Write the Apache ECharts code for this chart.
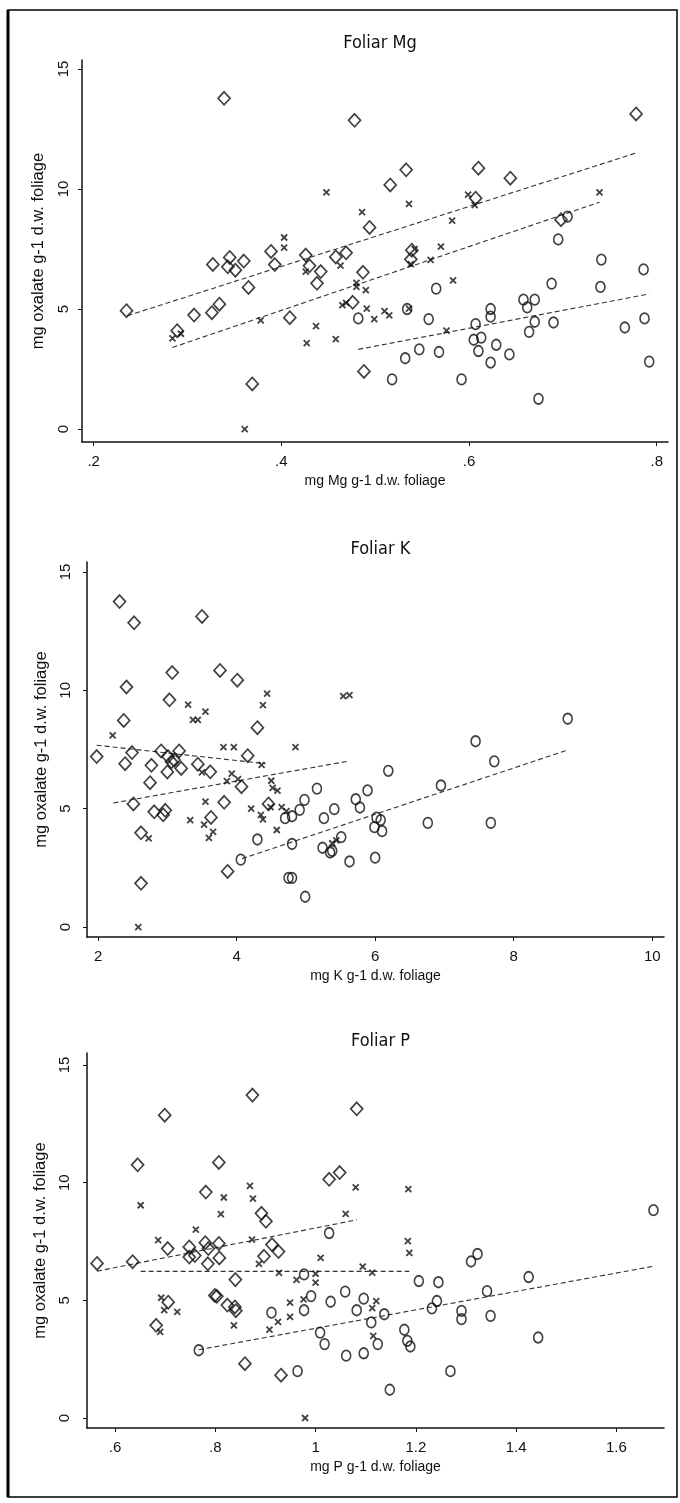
<!DOCTYPE html>
<html>
<head>
<meta charset="utf-8">
<script src="https://cdn.jsdelivr.net/npm/echarts@6/dist/echarts.min.js"></script>
<style>
  html, body { margin: 0; padding: 0; background: #fff; }
  #chart { width: 680px; height: 1503px; }
</style>
</head>
<body>
<div id="chart"></div>
<script>
// ---- Foliar Mg: [mg Mg g-1, mg oxalate g-1] ----
const mgDiamonds = [
  [0.235,4.93],[0.289,4.10],[0.307,4.75],[0.326,4.85],[0.334,5.20],[0.327,6.86],
  [0.345,7.15],[0.343,6.76],[0.351,6.62],[0.360,7.00],[0.365,5.90],[0.369,1.88],
  [0.339,13.78],[0.389,7.40],[0.393,6.85],[0.409,4.64],[0.426,7.25],[0.430,6.80],
  [0.442,6.56],[0.438,6.07],[0.458,7.17],[0.469,7.34],[0.487,6.53],[0.476,5.28],
  [0.488,2.40],[0.478,12.86],[0.494,8.40],[0.516,10.17],[0.533,10.80],[0.539,7.45],
  [0.538,7.07],[0.607,9.62],[0.610,10.87],[0.644,10.45],[0.698,8.72],[0.778,13.13]
];
const mgCrosses = [
  [0.284,3.78],[0.293,3.97],[0.361,0.00],[0.378,4.53],[0.403,7.98],[0.403,7.56],
  [0.426,6.56],[0.427,3.58],[0.437,4.29],[0.448,9.86],[0.458,3.75],[0.463,6.81],
  [0.465,5.16],[0.469,5.26],[0.480,6.09],[0.480,5.92],[0.486,9.04],[0.490,5.79],
  [0.491,5.02],[0.499,4.58],[0.510,4.91],[0.515,4.74],[0.536,9.38],[0.536,5.02],
  [0.542,7.50],[0.538,6.87],[0.559,7.05],[0.570,7.60],[0.576,4.10],[0.583,6.19],
  [0.582,8.68],[0.599,9.77],[0.606,9.33],[0.739,9.86]
];
const mgCircles = [
  [0.482,4.61],[0.518,2.07],[0.532,2.95],[0.534,5.00],[0.547,3.32],[0.557,4.58],
  [0.565,5.85],[0.568,3.21],[0.592,2.07],[0.605,3.72],[0.607,4.37],[0.610,3.25],
  [0.613,3.81],[0.623,2.77],[0.623,5.00],[0.623,4.68],[0.629,3.51],[0.643,3.11],
  [0.658,5.39],[0.662,5.07],[0.664,4.05],[0.670,5.39],[0.670,4.47],[0.674,1.26],
  [0.688,6.06],[0.690,4.44],[0.695,7.90],[0.705,8.85],[0.740,5.92],[0.741,7.06],
  [0.766,4.23],[0.786,6.65],[0.787,4.61],[0.792,2.81]
];
const mgFitDiamonds = [[0.236,4.72],[0.778,11.50]];
const mgFitCrosses  = [[0.284,3.40],[0.739,9.45]];
const mgFitCircles  = [[0.482,3.32],[0.792,5.63]];

// ---- Foliar K ----
const kDiamonds = [
  [1.98,7.20],[2.31,13.75],[2.52,12.85],[3.50,13.12],[2.41,10.14],[3.07,10.75],
  [3.76,10.84],[4.01,10.43],[3.03,9.60],[2.37,8.73],[4.30,8.42],[2.49,7.37],
  [2.39,6.90],[2.51,5.20],[2.75,6.10],[2.77,6.83],[2.81,4.87],[2.91,7.44],
  [2.94,4.74],[2.97,4.93],[3.01,7.20],[3.00,6.55],[3.06,6.98],[3.10,7.05],
  [3.17,7.44],[3.20,6.70],[3.44,6.88],[3.62,6.56],[3.63,4.63],[3.82,5.27],
  [3.87,2.35],[4.07,5.93],[4.16,7.24],[4.46,5.20],[2.62,3.98],[2.62,1.85]
];
const kCrosses = [
  [2.21,8.10],[3.30,9.40],[3.37,8.75],[3.44,8.75],[3.55,9.10],[4.44,9.86],
  [4.38,9.37],[5.54,9.75],[5.63,9.80],[3.81,7.60],[3.96,7.60],[4.85,7.60],
  [4.36,6.85],[3.50,6.53],[3.93,6.48],[3.86,6.16],[4.02,6.25],[4.50,6.18],
  [4.52,5.88],[4.59,5.76],[3.55,5.30],[4.21,5.00],[4.35,4.74],[4.38,4.55],
  [4.49,5.07],[4.65,5.07],[4.72,4.90],[3.33,4.52],[3.53,4.33],[3.60,3.77],
  [3.66,4.02],[4.58,4.10],[2.73,3.75],[2.58,0.00],[5.38,3.54],[5.44,3.66]
];
const kCircles = [
  [4.06,2.85],[4.30,3.70],[4.80,3.51],[4.70,4.60],[4.80,4.68],[4.91,4.95],
  [4.98,5.37],[4.75,2.08],[4.80,2.08],[4.99,1.28],[5.16,5.85],[5.24,3.35],
  [5.26,4.60],[5.35,3.15],[5.38,3.22],[5.41,4.98],[5.51,3.80],[5.63,2.77],
  [5.72,5.40],[5.78,5.05],[5.89,5.77],[5.99,4.22],[6.00,2.93],[6.02,4.62],
  [6.08,4.52],[6.10,4.05],[6.19,6.60],[6.76,4.40],[6.95,5.98],[7.45,7.85],
  [7.67,4.40],[7.72,7.00],[8.78,8.80]
];
const kFitDiamonds = [[1.98,7.68],[4.42,6.90]];
const kFitCrosses  = [[2.22,5.24],[5.60,7.00]];
const kFitCircles  = [[4.08,2.89],[8.75,7.45]];

// ---- Foliar P ----
const pDiamonds = [
  [0.564,6.57],[0.635,6.64],[0.645,10.76],[0.699,12.87],[0.705,7.20],[0.748,7.27],
  [0.748,6.84],[0.759,6.90],[0.780,7.45],[0.786,7.20],[0.785,6.55],[0.807,7.42],
  [0.808,6.80],[0.781,9.60],[0.807,10.86],[0.874,13.72],[0.892,8.70],[0.901,8.36],
  [0.897,6.87],[0.913,7.37],[0.926,7.07],[0.840,5.88],[0.799,5.21],[0.803,5.17],
  [0.824,4.80],[0.839,4.72],[0.841,4.56],[0.706,4.92],[0.682,3.94],[0.859,2.31],
  [0.931,1.82],[1.027,10.14],[1.048,10.43],[1.082,13.14]
];
const pCrosses = [
  [0.651,9.04],[0.686,7.56],[0.761,8.00],[0.811,8.66],[0.817,9.37],[0.869,9.86],
  [0.875,9.32],[0.873,7.58],[0.887,6.55],[0.927,6.17],[0.692,5.11],[0.698,4.58],
  [0.724,4.51],[0.690,3.66],[0.837,3.94],[0.908,3.76],[0.925,4.08],[0.949,4.90],
  [0.949,4.30],[0.962,5.87],[1.000,6.13],[1.000,5.75],[1.010,6.80],[0.976,5.04],
  [0.979,0.00],[1.094,6.43],[1.113,6.18],[1.121,4.97],[1.113,4.67],[1.115,3.49],
  [1.060,8.67],[1.080,9.80],[1.185,9.73],[1.184,7.52],[1.187,7.02]
];
const pCircles = [
  [0.767,2.88],[0.912,4.48],[0.964,1.99],[0.977,6.10],[0.977,4.58],[0.991,5.18],
  [1.009,3.63],[1.018,3.14],[1.027,7.86],[1.030,4.94],[1.059,5.37],[1.061,2.65],
  [1.082,4.58],[1.096,5.07],[1.096,2.75],[1.111,4.06],[1.124,3.14],[1.137,4.41],
  [1.148,1.20],[1.177,3.75],[1.183,3.28],[1.189,3.04],[1.206,5.82],[1.245,5.77],
  [1.242,4.97],[1.232,4.66],[1.269,1.99],[1.291,4.55],[1.291,4.20],[1.310,6.65],
  [1.323,6.97],[1.342,5.39],[1.349,4.34],[1.425,5.99],[1.444,3.42],[1.674,8.83]
];
const pFitDiamonds = [[0.564,6.24],[1.082,8.42]];
const pFitCrosses  = [[0.651,6.23],[1.187,6.23]];
const pFitCircles  = [[0.767,2.90],[1.674,6.45]];

// ---- axes and titles ----
const panelTitles = ['Foliar Mg', 'Foliar K', 'Foliar P'];
const xTitles = ['mg Mg g-1 d.w. foliage', 'mg K g-1 d.w. foliage', 'mg P g-1 d.w. foliage'];
const yTitle = 'mg oxalate g-1 d.w. foliage';
const xTicks = [[0.2,0.4,0.6,0.8],[2,4,6,8,10],[0.6,0.8,1.0,1.2,1.4,1.6]];
const yTicks = [0,5,10,15];

// panel frames (pixels) and axis ranges
const panels = [
  {left: 82, right: 12, top: 60,   height: 382, xMin: 0.1876, xMax: 0.812, yMin: -0.54, yMax: 15.375,
   titleY: 29, yLabelMargin: 11, yNameGap: 35},
  {left: 87, right: 16, top: 562,  height: 375, xMin: 1.84,   xMax: 10.17, yMin: -0.42, yMax: 15.42,
   titleY: 535, yLabelMargin: 14, yNameGap: 33},
  {left: 87, right: 16, top: 1053, height: 375, xMin: 0.544,  xMax: 1.695, yMin: -0.425, yMax: 15.51,
   titleY: 1027, yLabelMargin: 15, yNameGap: 33}
];
const groups = [
  [mgDiamonds, mgCrosses, mgCircles, mgFitDiamonds, mgFitCrosses, mgFitCircles],
  [kDiamonds, kCrosses, kCircles, kFitDiamonds, kFitCrosses, kFitCircles],
  [pDiamonds, pCrosses, pCircles, pFitDiamonds, pFitCrosses, pFitCircles]
];

const INK = '#111';
const labelFont = '"Liberation Sans", Arial, sans-serif';
const nameFont = '"Liberation Sans Narrow", "Liberation Sans", Arial, sans-serif';

// Stata style: drop leading zero (".2"), integers without decimals
function stataNum(v) {
  let s = String(Math.round(v * 1000) / 1000);
  if (s.startsWith('0.')) s = s.slice(1);
  return s;
}

const grid = [], xAxis = [], yAxis = [], series = [], title = [];
panels.forEach((p, i) => {
  grid.push({left: p.left, right: p.right, top: p.top, height: p.height, containLabel: false});
  title.push({
    text: panelTitles[i],
    left: p.left + (680 - p.left - p.right) / 2,
    top: p.titleY,
    textAlign: 'center',
    textStyle: {fontFamily: '"DejaVu Sans Condensed", "DejaVu Sans", sans-serif', fontSize: 18, fontWeight: 'normal', color: INK}
  });
  xAxis.push({
    type: 'value', gridIndex: i, min: p.xMin, max: p.xMax,
    name: xTitles[i], nameLocation: 'middle', nameGap: 32,
    nameTextStyle: {fontFamily: nameFont, fontSize: 14, color: INK},
    axisLine: {show: true, onZero: false, lineStyle: {color: INK, width: 1.5}},
    axisTick: {show: true, length: 4, customValues: xTicks[i], lineStyle: {color: INK}},
    axisLabel: {show: true, customValues: xTicks[i], formatter: stataNum, margin: 12,
                fontFamily: labelFont, fontSize: 15, color: INK},
    splitLine: {show: false}
  });
  yAxis.push({
    type: 'value', gridIndex: i, min: p.yMin, max: p.yMax,
    name: yTitle, nameLocation: 'middle', nameGap: p.yNameGap, nameRotate: 90,
    nameTextStyle: {fontFamily: labelFont, fontSize: 16.5, color: INK},
    axisLine: {show: true, onZero: false, lineStyle: {color: INK, width: 1.5}},
    axisTick: {show: true, length: 4, customValues: yTicks, lineStyle: {color: INK}},
    axisLabel: {show: true, customValues: yTicks, rotate: 90, margin: p.yLabelMargin,
                fontFamily: labelFont, fontSize: 15, color: INK},
    splitLine: {show: false}
  });

  const [dia, crs, cir, fDia, fCrs, fCir] = groups[i];
  const hollow = {color: 'rgba(0,0,0,0)', borderColor: INK, borderWidth: 1.7};
  series.push(
    {type: 'scatter', xAxisIndex: i, yAxisIndex: i, data: dia, symbol: 'diamond',
     symbolSize: [12, 13], itemStyle: hollow, z: 3},
    {type: 'scatter', xAxisIndex: i, yAxisIndex: i, data: cir, symbol: 'circle',
     symbolSize: [9, 10.5], itemStyle: hollow, z: 3},
    {type: 'scatter', xAxisIndex: i, yAxisIndex: i, data: crs,
     symbol: 'path://M0,0L10,10M10,0L0,10', symbolSize: 6,
     itemStyle: {color: 'rgba(0,0,0,0)', borderColor: INK, borderWidth: 1.8}, z: 3}
  );
  [fDia, fCrs, fCir].forEach(seg => {
    series.push({type: 'line', xAxisIndex: i, yAxisIndex: i, data: seg,
      showSymbol: false, symbol: 'none', silent: true, z: 2,
      lineStyle: {color: '#333', width: 1.1, type: [5, 3]}});
  });
});

const chart = echarts.init(document.getElementById('chart'), null, {renderer: 'canvas'});
chart.setOption({
  backgroundColor: '#fff',
  animation: false,
  title, grid, xAxis, yAxis, series,
  graphic: [
    {type: 'rect', shape: {x: 8, y: 10, width: 669, height: 1487},
     style: {fill: 'none', stroke: '#000', lineWidth: 1.5}, silent: true},
    {type: 'line', shape: {x1: 8, y1: 10, x2: 8, y2: 1497},
     style: {stroke: '#000', lineWidth: 3}, silent: true}
  ]
});
</script>
</body>
</html>
